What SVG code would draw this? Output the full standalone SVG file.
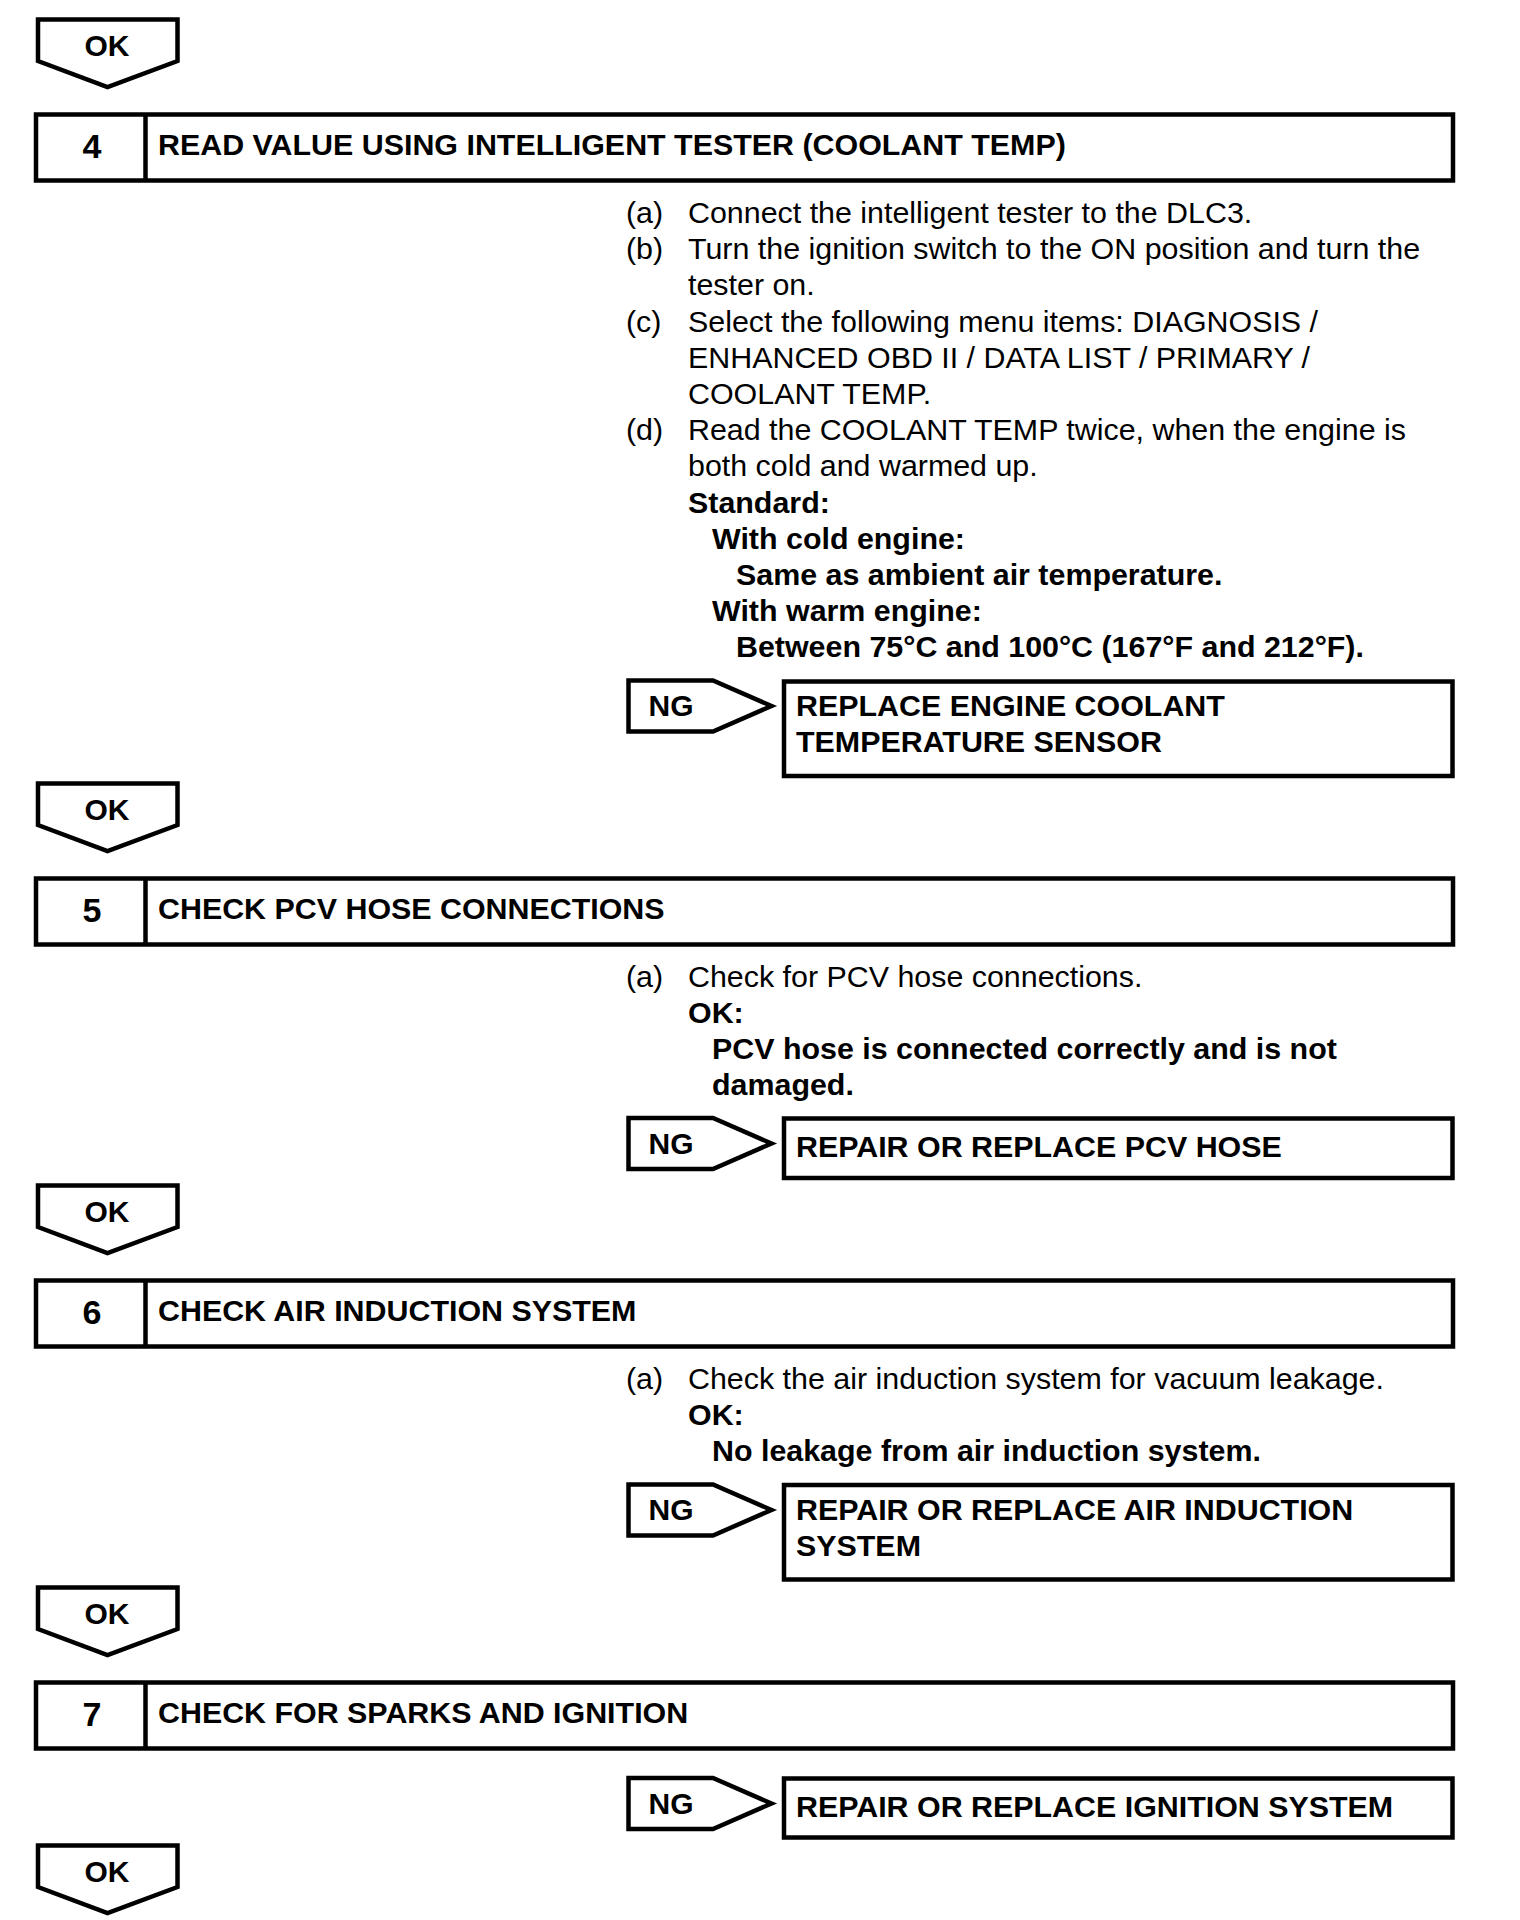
<svg xmlns="http://www.w3.org/2000/svg" width="1520" height="1920" viewBox="0 0 1520 1920">
<style>
.box{fill:#fff;stroke:#000;stroke-width:4.5}
.arr{fill:#fff;stroke:#000;stroke-width:4.5;stroke-linejoin:miter}
.div{stroke:#000;stroke-width:4.5}
text{font-family:"Liberation Sans",Arial,sans-serif;fill:#000}
.t{font-size:30.4px;font-weight:bold}
.num{font-size:34px;font-weight:bold;text-anchor:middle}
.lbl{font-size:30px;font-weight:bold;text-anchor:middle}
.b{font-size:30.4px}
.bb{font-size:30.4px;font-weight:bold}
</style>
<defs>
<polygon id="okArrow" points="38,0 177.5,0 177.5,41.5 107.5,67.5 38,41.5"/>
<polygon id="ngArrow" points="628.5,0 713,0 771.5,25.5 713,51 628.5,51"/>
</defs>
<rect width="1520" height="1920" fill="#fff"/>

<g id="connectors">
<g id="ok1"><use href="#okArrow" class="arr" y="19.5"/><text class="lbl" x="107" y="56">OK</text></g>
<g id="ok2"><use href="#okArrow" class="arr" y="783.5"/><text class="lbl" x="107" y="820">OK</text></g>
<g id="ok3"><use href="#okArrow" class="arr" y="1185.5"/><text class="lbl" x="107" y="1222">OK</text></g>
<g id="ok4"><use href="#okArrow" class="arr" y="1587.5"/><text class="lbl" x="107" y="1624">OK</text></g>
<g id="ok5"><use href="#okArrow" class="arr" y="1845.5"/><text class="lbl" x="107" y="1882">OK</text></g>
<g id="ng1"><use href="#ngArrow" class="arr" y="680.5"/><text class="lbl" x="671" y="716">NG</text></g>
<g id="ng2"><use href="#ngArrow" class="arr" y="1118"/><text class="lbl" x="671" y="1153.5">NG</text></g>
<g id="ng3"><use href="#ngArrow" class="arr" y="1484.5"/><text class="lbl" x="671" y="1520">NG</text></g>
<g id="ng4"><use href="#ngArrow" class="arr" y="1778"/><text class="lbl" x="671" y="1813.5">NG</text></g>
</g>

<g id="step4">
<rect class="box" x="36" y="114.5" width="1417" height="66"/>
<line class="div" x1="145.5" y1="114.5" x2="145.5" y2="180.5"/>
<text class="num" x="92" y="157.5">4</text>
<text class="t" x="158" y="155">READ VALUE USING INTELLIGENT TESTER (COOLANT TEMP)</text>
</g>
<g id="step4-body">
<text class="b" x="626" y="223">(a)</text>
<text class="b" x="688" y="223">Connect the intelligent tester to the DLC3.</text>
<text class="b" x="626" y="259">(b)</text>
<text class="b" x="688" y="259">Turn the ignition switch to the ON position and turn the</text>
<text class="b" x="688" y="295">tester on.</text>
<text class="b" x="626" y="332">(c)</text>
<text class="b" x="688" y="332">Select the following menu items: DIAGNOSIS /</text>
<text class="b" x="688" y="368">ENHANCED OBD II / DATA LIST / PRIMARY /</text>
<text class="b" x="688" y="404">COOLANT TEMP.</text>
<text class="b" x="626" y="440">(d)</text>
<text class="b" x="688" y="440">Read the COOLANT TEMP twice, when the engine is</text>
<text class="b" x="688" y="476">both cold and warmed up.</text>
<text class="bb" x="688" y="513">Standard:</text>
<text class="bb" x="712" y="549">With cold engine:</text>
<text class="bb" x="736" y="585">Same as ambient air temperature.</text>
<text class="bb" x="712" y="621">With warm engine:</text>
<text class="bb" x="736" y="657">Between 75°C and 100°C (167°F and 212°F).</text>
</g>
<g id="result4">
<rect class="box" x="784" y="681.5" width="668.5" height="94.5"/>
<text class="t" x="796" y="716">REPLACE ENGINE COOLANT</text>
<text class="t" x="796" y="752">TEMPERATURE SENSOR</text>
</g>

<g id="step5">
<rect class="box" x="36" y="878.5" width="1417" height="66"/>
<line class="div" x1="145.5" y1="878.5" x2="145.5" y2="944.5"/>
<text class="num" x="92" y="921.5">5</text>
<text class="t" x="158" y="919">CHECK PCV HOSE CONNECTIONS</text>
</g>
<g id="step5-body">
<text class="b" x="626" y="987">(a)</text>
<text class="b" x="688" y="987">Check for PCV hose connections.</text>
<text class="bb" x="688" y="1023">OK:</text>
<text class="bb" x="712" y="1059">PCV hose is connected correctly and is not</text>
<text class="bb" x="712" y="1095">damaged.</text>
</g>
<g id="result5">
<rect class="box" x="784" y="1118.5" width="668.5" height="59.5"/>
<text class="t" x="796" y="1157">REPAIR OR REPLACE PCV HOSE</text>
</g>

<g id="step6">
<rect class="box" x="36" y="1280.5" width="1417" height="66"/>
<line class="div" x1="145.5" y1="1280.5" x2="145.5" y2="1346.5"/>
<text class="num" x="92" y="1323.5">6</text>
<text class="t" x="158" y="1321">CHECK AIR INDUCTION SYSTEM</text>
</g>
<g id="step6-body">
<text class="b" x="626" y="1389">(a)</text>
<text class="b" x="688" y="1389">Check the air induction system for vacuum leakage.</text>
<text class="bb" x="688" y="1425">OK:</text>
<text class="bb" x="712" y="1461">No leakage from air induction system.</text>
</g>
<g id="result6">
<rect class="box" x="784" y="1485" width="668.5" height="94.5"/>
<text class="t" x="796" y="1519.5">REPAIR OR REPLACE AIR INDUCTION</text>
<text class="t" x="796" y="1555.5">SYSTEM</text>
</g>

<g id="step7">
<rect class="box" x="36" y="1682.5" width="1417" height="66"/>
<line class="div" x1="145.5" y1="1682.5" x2="145.5" y2="1748.5"/>
<text class="num" x="92" y="1725.5">7</text>
<text class="t" x="158" y="1723">CHECK FOR SPARKS AND IGNITION</text>
</g>
<g id="result7">
<rect class="box" x="784" y="1778.5" width="668.5" height="59"/>
<text class="t" x="796" y="1817">REPAIR OR REPLACE IGNITION SYSTEM</text>
</g>
</svg>
